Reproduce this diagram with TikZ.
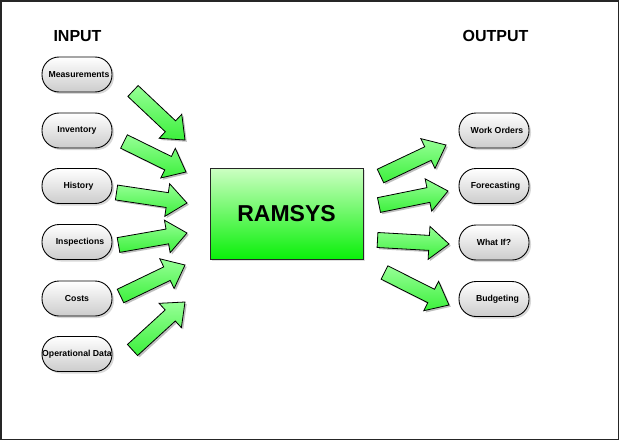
\documentclass[tikz,border=0pt]{standalone}
\usepackage{fontspec}
\setmainfont{Liberation Sans}
\usetikzlibrary{calc,shadows}
\definecolor{arrlight}{RGB}{150,255,150}
\definecolor{arrdark}{RGB}{60,240,60}
\definecolor{boxlight}{RGB}{205,255,195}
\definecolor{boxdark}{RGB}{10,240,10}
\tikzset{
  pill/.style={draw=black, line width=0.9pt, rounded corners=17pt,
    minimum width=70pt, minimum height=35pt, inner sep=0pt,
    top color=white, bottom color=black!20,
    font=\fontsize{8.7}{9}\selectfont\bfseries,
    drop shadow={shadow xshift=2pt, shadow yshift=-2pt, opacity=0.3}},
  mainbox/.style={draw=black!85, line width=0.9pt,
    minimum width=153pt, minimum height=91pt, inner sep=0pt,
    top color=boxlight, bottom color=boxdark,
    font=\fontsize{23}{26}\selectfont\bfseries,
    drop shadow={shadow xshift=2pt, shadow yshift=-2pt, opacity=0.25}},
  heading/.style={font=\fontsize{16}{18}\selectfont\bfseries, inner sep=0pt},
  blockarr/.style={draw=black, line width=0.8pt, line join=miter,
    top color=arrlight, bottom color=arrdark},
  blockshadow/.style={fill=black, opacity=0.25,
    transform canvas={xshift=1.8pt, yshift=-1.8pt}},
}
\newcommand\blockarrow[3]{%
  \coordinate (#1b) at ($(#3)!20pt!(#2)$);
  \path[blockshadow] ($(#2)!7.5pt!90:(#3)$) -- ($(#1b)!7.5pt!90:(#3)$)
    -- ($(#1b)!16.5pt!90:(#3)$) -- (#3) -- ($(#1b)!16.5pt!-90:(#3)$)
    -- ($(#1b)!7.5pt!-90:(#3)$) -- ($(#2)!7.5pt!-90:(#3)$) -- cycle;
  \path[blockarr] ($(#2)!7.5pt!90:(#3)$) -- ($(#1b)!7.5pt!90:(#3)$)
    -- ($(#1b)!16.5pt!90:(#3)$) -- (#3) -- ($(#1b)!16.5pt!-90:(#3)$)
    -- ($(#1b)!7.5pt!-90:(#3)$) -- ($(#2)!7.5pt!-90:(#3)$) -- cycle;
}
\begin{document}
\begin{tikzpicture}[x=1pt, y=-1pt]
\useasboundingbox (0,0) rectangle (620,441);
\fill[white] (0,0) rectangle (620,441);
\draw[black!85, line width=1.6pt] (1,1) rectangle (618.5,439.5);

% headings
\node[heading] (inp) at (77.5,36) {INPUT};
\node[heading] (outp) at (495.5,36) {OUTPUT};

% input pills
\node[pill] (meas) at (77,74.5) {\hspace*{4pt}Measurements};
\node[pill] (inv)  at (77,130.5) {Inventory};
\node[pill] (hist) at (77,186) {\hspace*{3pt}History};
\node[pill] (insp) at (77,242) {\hspace*{6pt}Inspections};
\node[pill] (cost) at (77,298.5) {Costs};
\node[pill] (opd)  at (77,354) {Operational Data};

% output pills
\node[pill] (wo)  at (494,130.5) {\hspace*{6pt}Work Orders};
\node[pill] (fc)  at (494,186) {\hspace*{3pt}Forecasting};
\node[pill] (wi)  at (494,242.5) {What If?};
\node[pill] (bud) at (494,299) {\hspace*{7pt}Budgeting};

% central box
\node[mainbox] (ram) at (286.5,213.5) {RAMSYS};

% arrow end points
\coordinate (a1t) at (133,91);    \coordinate (a1h) at (185,140);
\coordinate (a2t) at (124,141.5); \coordinate (a2h) at (186,172);
\coordinate (a3t) at (116.5,192.5); \coordinate (a3h) at (187,203);
\coordinate (a4t) at (118.5,245); \coordinate (a4h) at (187,233);
\coordinate (a5t) at (120.5,296); \coordinate (a5h) at (185,265);
\coordinate (a6t) at (132.5,350); \coordinate (a6h) at (185,302);
\coordinate (o1t) at (380.5,176); \coordinate (o1h) at (446,145);
\coordinate (o2t) at (379,205);   \coordinate (o2h) at (448,191);
\coordinate (o3t) at (377.5,240); \coordinate (o3h) at (449,244);
\coordinate (o4t) at (384.5,272.5); \coordinate (o4h) at (449,305);

\blockarrow{a1}{a1t}{a1h}
\blockarrow{a2}{a2t}{a2h}
\blockarrow{a3}{a3t}{a3h}
\blockarrow{a4}{a4t}{a4h}
\blockarrow{a5}{a5t}{a5h}
\blockarrow{a6}{a6t}{a6h}
\blockarrow{o1}{o1t}{o1h}
\blockarrow{o2}{o2t}{o2h}
\blockarrow{o3}{o3t}{o3h}
\blockarrow{o4}{o4t}{o4h}
\end{tikzpicture}
\end{document}
